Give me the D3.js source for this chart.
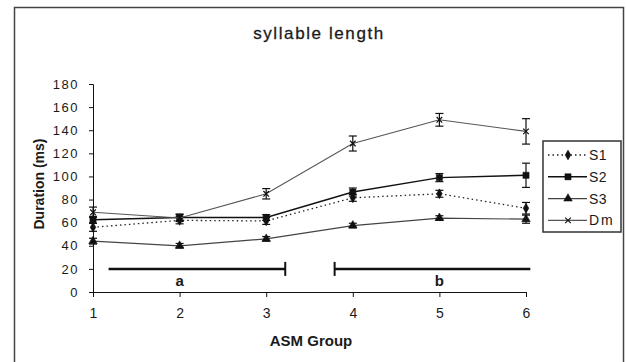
<!DOCTYPE html>
<html>
<head>
<meta charset="utf-8">
<script src="https://cdn.jsdelivr.net/npm/d3@7"></script>
<style>
  body { margin: 0; background: #fff; }
  text { font-family: "Liberation Sans", Arial, sans-serif; fill: #1a1a1a; }
</style>
</head>
<body>
<div id="chart"></div>
<script>
// Data
var groups = [1, 2, 3, 4, 5, 6];
var yTicks = [0, 20, 40, 60, 80, 100, 120, 140, 160, 180];
var seriesNames = ["S1", "S2", "S3", "Dm"];

var s1 = [56, 62, 61.5, 81.5, 85, 72.5];
var s1Err = [3.5, 3, 3, 3, 3, 5];
var s2 = [62.5, 64.5, 64.5, 86.5, 99, 101];
var s2Err = [3, 3, 2.5, 3.5, 3.5, 10.5];
var s3 = [44, 40, 46, 57.5, 64, 63];
var s3Err = [2.5, 2, 2, 2, 2, 3.5];
var dm = [69, 64, 85, 128.5, 149, 139];
var dmErr = [4.5, 3, 4.5, 6.5, 5.5, 11];

// group brackets (a, b) in x units, at y = 20
var bracketLabels = ["a", "b"];
var bracketFrom = [1.18, 3.79];
var bracketTo = [3.22, 6.05];
var bracketLabelX = [2, 5];

var width = 626, height = 362;

var svg = d3.select("#chart").append("svg")
    .attr("width", width)
    .attr("height", height);

// outer frame
svg.append("rect")
    .attr("x", 14.5).attr("y", 7.5)
    .attr("width", 609).attr("height", 360)
    .attr("fill", "none")
    .attr("stroke", "#444")
    .attr("stroke-width", 1.5);

var x = d3.scaleLinear().domain([1, 6]).range([93, 526]);
var y = d3.scaleLinear().domain([0, 180]).range([292, 84]);

// title
svg.append("text")
    .attr("x", 319).attr("y", 39)
    .attr("text-anchor", "middle")
    .style("font-size", "17px")
    .style("letter-spacing", "1.6px")
    .style("stroke", "#1a1a1a")
    .style("stroke-width", "0.3px")
    .text("syllable length");

// y axis
var yAxis = svg.append("g")
    .attr("transform", "translate(" + x(1) + ",0)")
    .call(d3.axisLeft(y).tickValues(yTicks).tickSize(4).tickPadding(10));
yAxis.selectAll("text")
    .style("font-size", "13px")
    .style("letter-spacing", "1.5px");

// x axis
var xAxis = svg.append("g")
    .attr("transform", "translate(0," + y(0) + ")")
    .call(d3.axisBottom(x).tickValues(groups).tickFormat(d3.format("d")).tickSize(5).tickPadding(11));
xAxis.selectAll("text")
    .style("font-size", "14px");

svg.selectAll(".domain, .tick line").attr("stroke", "#111");

// axis titles
svg.append("text")
    .attr("x", 311).attr("y", 346)
    .attr("text-anchor", "middle")
    .style("font-size", "15px")
    .style("font-weight", "bold")
    .text("ASM Group");

svg.append("text")
    .attr("transform", "translate(44,184) rotate(-90)")
    .attr("text-anchor", "middle")
    .style("font-size", "14px")
    .style("font-weight", "bold")
    .text("Duration (ms)");

// brackets
var br = svg.append("g");
bracketLabels.forEach(function(lbl, i) {
  br.append("line")
      .attr("x1", x(bracketFrom[i])).attr("x2", x(bracketTo[i]))
      .attr("y1", y(20)).attr("y2", y(20))
      .attr("stroke", "#111").attr("stroke-width", 2.5);
  var tx = i === 0 ? x(bracketTo[i]) : x(bracketFrom[i]);
  br.append("line")
      .attr("x1", tx).attr("x2", tx)
      .attr("y1", y(20) - 7).attr("y2", y(20) + 7)
      .attr("stroke", "#111").attr("stroke-width", 2);
  br.append("text")
      .attr("x", x(bracketLabelX[i])).attr("y", y(20) + 17)
      .attr("text-anchor", "middle")
      .style("font-size", "15px")
      .style("font-weight", "bold")
      .text(lbl);
});

var series = [
  {name: "S1", values: s1, err: s1Err, dash: "1.5,3", color: "#222", width: 1.3, symbol: d3.symbolDiamond, size: 28, filled: true},
  {name: "S2", values: s2, err: s2Err, dash: null, color: "#111", width: 1.4, symbol: d3.symbolSquare, size: 38, filled: true},
  {name: "S3", values: s3, err: s3Err, dash: null, color: "#444", width: 1.2, symbol: d3.symbolTriangle, size: 32, filled: true},
  {name: "Dm", values: dm, err: dmErr, dash: null, color: "#555", width: 1.1, symbol: d3.symbolTimes, size: 22, filled: false}
];

var line = d3.line()
    .x(function(d, i) { return x(groups[i]); })
    .y(function(d) { return y(d); });

series.forEach(function(s) {
  var g = svg.append("g");
  g.append("path")
      .datum(s.values)
      .attr("d", line)
      .attr("fill", "none")
      .attr("stroke", s.color)
      .attr("stroke-width", s.width)
      .attr("stroke-dasharray", s.dash);

  // error bars
  s.values.forEach(function(v, i) {
    var cx = x(groups[i]);
    g.append("line")
        .attr("x1", cx).attr("x2", cx)
        .attr("y1", y(v + s.err[i])).attr("y2", y(v - s.err[i]))
        .attr("stroke", "#111").attr("stroke-width", 1.2);
    [v + s.err[i], v - s.err[i]].forEach(function(e) {
      g.append("line")
          .attr("x1", cx - 4).attr("x2", cx + 4)
          .attr("y1", y(e)).attr("y2", y(e))
          .attr("stroke", "#111").attr("stroke-width", 1.2);
    });
  });

  g.selectAll(".pt")
      .data(s.values)
    .enter().append("path")
      .attr("transform", function(d, i) { return "translate(" + x(groups[i]) + "," + y(d) + ")"; })
      .attr("d", d3.symbol().type(s.symbol).size(s.size))
      .attr("fill", s.filled ? "#111" : "none")
      .attr("stroke", "#111")
      .attr("stroke-width", s.filled ? 0.5 : 1.2);
});

// legend
var legend = svg.append("g");
legend.append("rect")
    .attr("x", 543).attr("y", 141)
    .attr("width", 78).attr("height", 91)
    .attr("fill", "#fff")
    .attr("stroke", "#333")
    .attr("stroke-width", 1.5);

series.forEach(function(s, i) {
  var ly = 155 + i * 21.8;
  legend.append("line")
      .attr("x1", 548).attr("x2", 587)
      .attr("y1", ly).attr("y2", ly)
      .attr("stroke", s.color)
      .attr("stroke-width", s.width)
      .attr("stroke-dasharray", s.dash);
  legend.append("path")
      .attr("transform", "translate(568," + ly + ")")
      .attr("d", d3.symbol().type(s.symbol).size(s.size))
      .attr("fill", s.filled ? "#111" : "none")
      .attr("stroke", "#111")
      .attr("stroke-width", s.filled ? 0.5 : 1.2);
  legend.append("text")
      .attr("x", 589).attr("y", ly + 5)
      .style("font-size", "14px")
      .style("letter-spacing", s.name === "Dm" ? "2px" : "0.5px")
      .text(s.name);
});
</script>
</body>
</html>
